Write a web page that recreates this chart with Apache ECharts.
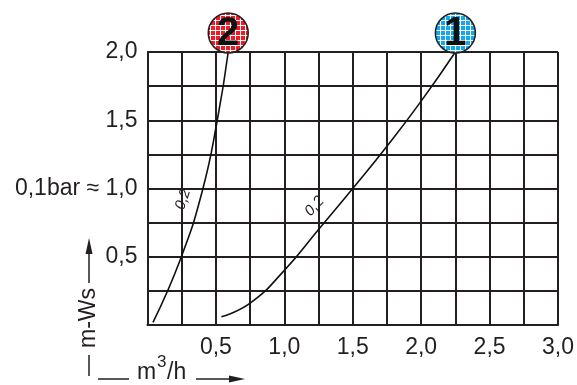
<!DOCTYPE html>
<html>
<head>
<meta charset="utf-8">
<script src="https://cdn.jsdelivr.net/npm/echarts@6/dist/echarts.min.js"></script>
<style>
  html, body { margin: 0; padding: 0; background: #fff; }
  #chart { width: 577px; height: 385px; }
</style>
</head>
<body>
<div id="chart"></div>
<script>
// tick labels
var xTicks = [0.5, 1.0, 1.5, 2.0, 2.5, 3.0];
var xTickLabels = ["0,5", "1,0", "1,5", "2,0", "2,5", "3,0"];
var yTicks = [0.5, 1.0, 1.5, 2.0];
var yTickLabels = ["0,5", "0,1bar \u2248 1,0", "1,5", "2,0"];

// curve 1 (m3/h, m-Ws)
var curve1X = [0.54, 0.75, 1.0, 1.25, 1.5, 1.75, 2.0, 2.25];
var curve1Y = [0.06, 0.16, 0.40, 0.70, 1.0, 1.31, 1.64, 2.0];
// curve 2
var curve2X = [0.04, 0.24, 0.40, 0.51, 0.59];
var curve2Y = [0.02, 0.48, 0.98, 1.50, 2.0];

// "0,2" labels along the curves and number badges at curve ends
var curveLabels = ["0,2", "0,2"];
var labelPos = [[1.22, 0.87], [0.26, 0.92]];
var labelRot = [47, 72];
var badgeText = ["1", "2"];
var badgePos = [[2.25, 2.0], [0.59, 2.0]];

var ink = "#231f20";
var font = "Liberation Sans, Arial, sans-serif";

function pairs(xs, ys) {
  return xs.map(function (x, i) { return [x, ys[i]]; });
}
function tickLabel(ticks, labels) {
  return function (v) {
    for (var i = 0; i < ticks.length; i++) {
      if (Math.abs(ticks[i] - v) < 1e-6) return labels[i];
    }
    return "";
  };
}
function hatch(color) {
  var c = document.createElement("canvas");
  c.width = 5; c.height = 5;
  var g = c.getContext("2d");
  g.fillStyle = color;
  g.fillRect(0, 0, 5, 5);
  g.fillStyle = "#ffffff";
  g.fillRect(0, 0, 5, 1);
  g.fillRect(0, 0, 1, 5);
  return { image: c, repeat: "repeat" };
}
function curveSeries(xs, ys, k) {
  return {
    type: "line", data: pairs(xs, ys), smooth: 0.5,
    symbol: "none", lineStyle: { color: "#111", width: 1.6 },
    markPoint: {
      symbol: "circle", symbolSize: 1, itemStyle: { color: "transparent" },
      label: { show: true, formatter: curveLabels[k], rotate: labelRot[k],
        color: ink, fontFamily: font, fontSize: 15, fontStyle: "italic" },
      data: [{ coord: labelPos[k] }]
    }
  };
}

var chart = echarts.init(document.getElementById("chart"));
var option = {
  animation: false,
  backgroundColor: "#fff",
  grid: { left: 147.5, right: 19, top: 52, bottom: 60 },
  xAxis: {
    type: "value", min: 0, max: 3, interval: 0.25,
    axisLine: { show: true, lineStyle: { color: ink, width: 2 } },
    axisTick: { show: false },
    splitLine: { show: true, lineStyle: { color: ink, width: 2 } },
    axisLabel: {
      color: ink, fontFamily: font, fontSize: 23, margin: 11,
      showMinLabel: true, showMaxLabel: true,
      formatter: tickLabel(xTicks, xTickLabels)
    }
  },
  yAxis: {
    type: "value", min: 0, max: 2, interval: 0.25,
    axisLine: { show: true, lineStyle: { color: ink, width: 2 } },
    axisTick: { show: false },
    splitLine: { show: true, lineStyle: { color: ink, width: 2 } },
    axisLabel: {
      color: ink, fontFamily: font, fontSize: 23, margin: 10,
      formatter: tickLabel(yTicks, yTickLabels)
    }
  },
  series: [
    curveSeries(curve1X, curve1Y, 0),
    curveSeries(curve2X, curve2Y, 1)
  ]
};
chart.setOption(option);

// badges above the curve ends and axis titles
var fills = [hatch("#12a9ec"), hatch("#ee1c25")];
var graphics = [];
badgePos.forEach(function (p, i) {
  var px = chart.convertToPixel({ gridIndex: 0 }, p);
  graphics.push({
    type: "circle", shape: { cx: px[0], cy: px[1] - 19, r: 20 },
    style: { fill: fills[i], stroke: ink, lineWidth: 1.5 }, z: 10
  });
  graphics.push({
    type: "text", x: px[0], y: px[1] - 18, z: 11,
    style: { text: badgeText[i], fill: "#111", font: "bold 40px " + font,
      align: "center", verticalAlign: "middle" }
  });
});

// y title: | m-Ws ->
graphics.push({ type: "line", shape: { x1: 89, y1: 355, x2: 89, y2: 376 },
  style: { stroke: ink, lineWidth: 1.5 } });
graphics.push({ type: "text", x: 89, y: 318, rotation: Math.PI / 2,
  style: { text: "m-Ws", fill: ink, font: "23px " + font,
    align: "center", verticalAlign: "middle" } });
graphics.push({ type: "line", shape: { x1: 89, y1: 283, x2: 89, y2: 250 },
  style: { stroke: ink, lineWidth: 1.5 } });
graphics.push({ type: "polygon", shape: { points: [[89, 238], [85.5, 254], [92.5, 254]] },
  style: { fill: ink } });

// x title: — m3/h ->
graphics.push({ type: "line", shape: { x1: 98, y1: 379, x2: 129, y2: 379 },
  style: { stroke: ink, lineWidth: 1.5 } });
graphics.push({ type: "text", x: 137, y: 373,
  style: { text: "m", fill: ink, font: "23px " + font, verticalAlign: "middle" } });
graphics.push({ type: "text", x: 157, y: 362,
  style: { text: "3", fill: ink, font: "17px " + font, verticalAlign: "middle" } });
graphics.push({ type: "text", x: 167, y: 373,
  style: { text: "/h", fill: ink, font: "23px " + font, verticalAlign: "middle" } });
graphics.push({ type: "line", shape: { x1: 196, y1: 379, x2: 232, y2: 379 },
  style: { stroke: ink, lineWidth: 1.5 } });
graphics.push({ type: "polygon", shape: { points: [[245, 379], [229, 375.5], [229, 382.5]] },
  style: { fill: ink } });

chart.setOption({ graphic: graphics });
</script>
</body>
</html>
